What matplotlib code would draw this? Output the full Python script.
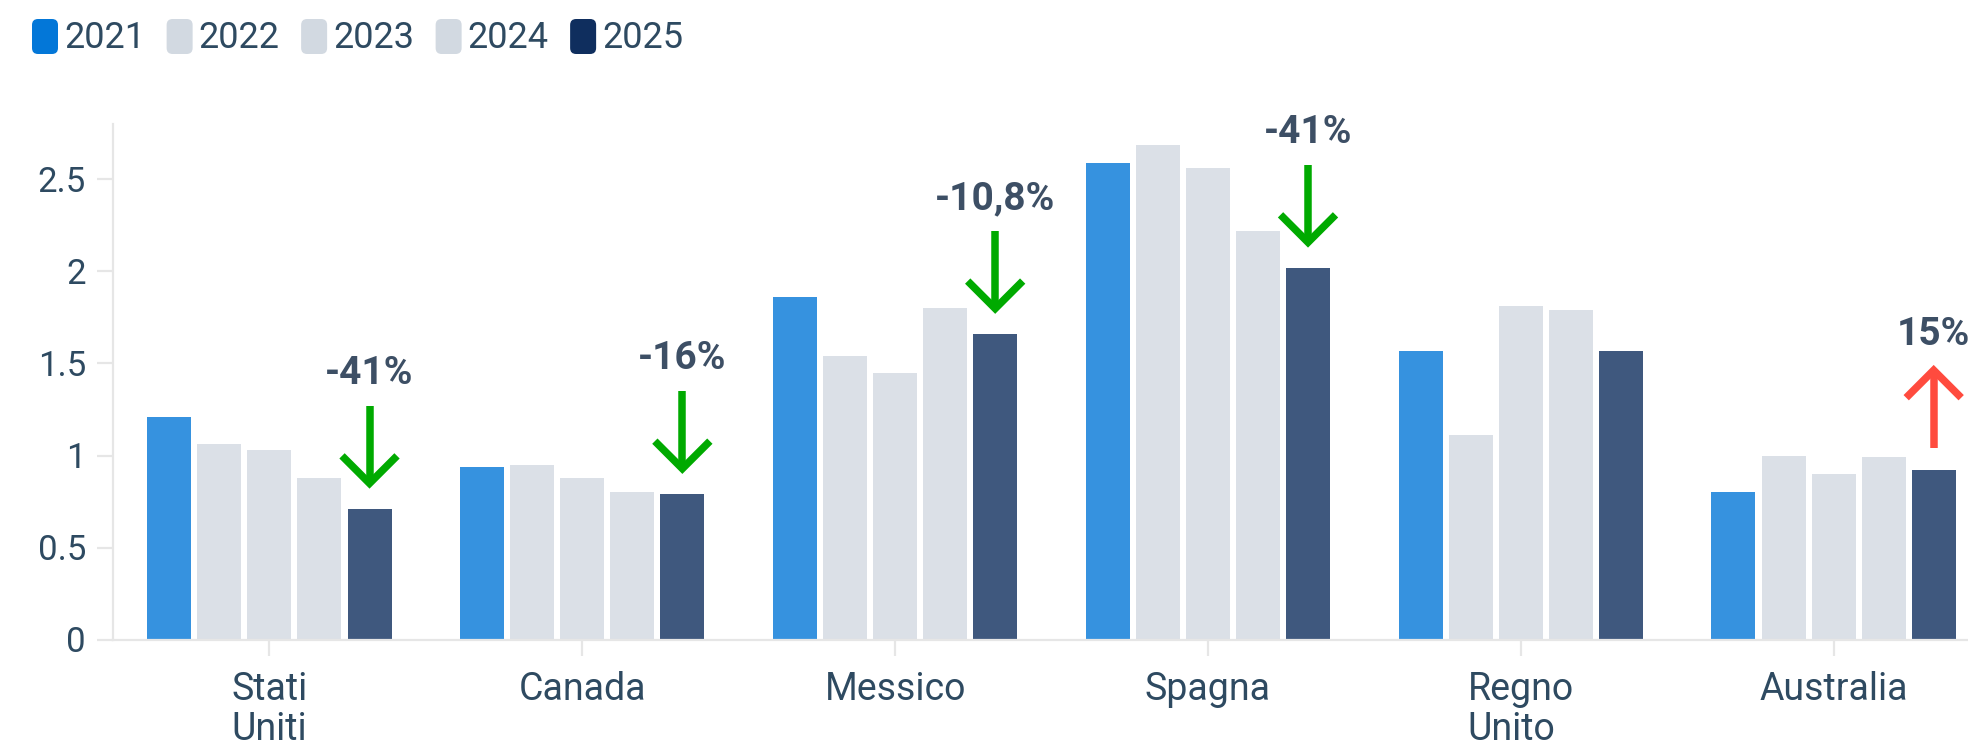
import matplotlib.pyplot as plt
import matplotlib.transforms as mtransforms
from matplotlib.patches import FancyBboxPatch
import numpy as np

plt.rcParams['font.family'] = ['Roboto', 'DejaVu Sans']

# data
countries = ["Stati\nUniti", "Canada", "Messico", "Spagna", "Regno\nUnito", "Australia"]
years = ["2021", "2022", "2023", "2024", "2025"]

v2021 = [1.21, 0.94, 1.86, 2.59, 1.57, 0.80]
v2022 = [1.06, 0.95, 1.54, 2.69, 1.11, 1.00]
v2023 = [1.03, 0.88, 1.45, 2.56, 1.81, 0.90]
v2024 = [0.88, 0.80, 1.80, 2.22, 1.79, 0.99]
v2025 = [0.71, 0.79, 1.66, 2.02, 1.57, 0.92]

change_labels = ["-41%", "-16%", "-10,8%", "-41%", "", "15%"]
change_dir = ["down", "down", "down", "down", "", "up"]

y_ticks = [0, 0.5, 1, 1.5, 2, 2.5]
y_tick_labels = ["0", "0.5", "1", "1.5", "2", "2.5"]

# styling
year_colors = ['#0377d8', '#d2d9e1', '#d2d9e1', '#d2d9e1', '#0f2e5e']
text_color = '#2e4a61'
axis_color = '#e6e6e6'
W, H = 1968, 754

fig = plt.figure(figsize=(W / 100, H / 100), dpi=100)
ax = fig.add_axes([113 / W, (H - 639.5) / H, 1877 / W, (639.5 - 124.3) / H])

x = np.arange(len(countries))
pitch = 0.16
bar_w = 0.1407
series = [v2021, v2022, v2023, v2024, v2025]
for i, vals in enumerate(series):
    ax.bar(x + (i - 2) * pitch, vals, width=bar_w, color=year_colors[i],
           alpha=0.8, zorder=2, linewidth=0)

# change arrows + labels above the 2025 bars
for k, (lab, d) in enumerate(zip(change_labels, change_dir)):
    if not lab:
        continue
    xk = x[k] + 2 * pitch
    # offsets in inches from the top of the bar
    trans = fig.dpi_scale_trans + mtransforms.ScaledTranslation(xk, v2025[k], ax.transData)
    if d == "down":
        color = '#00aa00'
        shaft = ([0, 0], [1.03, 0.26])
        head = ([-0.275, 0, 0.275], [0.53, 0.255, 0.53])
    else:
        color = '#ff4b3e'
        shaft = ([0, 0], [0.22, 0.99])
        head = ([-0.275, 0, 0.275], [0.725, 1.0, 0.725])
    ax.plot(*shaft, transform=trans, color=color, lw=5.4,
            solid_capstyle='butt', clip_on=False, zorder=3)
    ax.plot(*head, transform=trans, color=color, lw=5.4,
            solid_capstyle='butt', solid_joinstyle='miter', clip_on=False, zorder=3)
    ax.text(0, 1.25, lab, transform=trans, ha='center', va='baseline',
            fontsize=28, fontweight='bold', color='#3d4f65', clip_on=False)

ax.set_xlim(-0.5, 5.5)
ax.set_ylim(0, 2.8)
ax.set_xticks(x)
ax.set_xticklabels(countries)
for lbl in ax.get_xticklabels():
    lbl.set_multialignment('left')
    lbl.set_linespacing(1.1)
ax.set_yticks(y_ticks)
ax.set_yticklabels(y_tick_labels)

for side in ['top', 'right']:
    ax.spines[side].set_visible(False)
for side in ['left', 'bottom']:
    ax.spines[side].set_color(axis_color)
    ax.spines[side].set_linewidth(1.6)

ax.tick_params(axis='both', color=axis_color, width=1.6, length=11.5,
               labelcolor=text_color, labelsize=27)
ax.tick_params(axis='y', pad=8, labelsize=25)
ax.tick_params(axis='x', pad=11)

# legend drawn by hand at the top left
renderer = fig.canvas.get_renderer()
px = mtransforms.IdentityTransform()
x_cursor = 32
for name, col in zip(years, year_colors):
    box = FancyBboxPatch((x_cursor, H - 54), 26, 35,
                         boxstyle='round,pad=0,rounding_size=6',
                         transform=px, facecolor=col, edgecolor='none')
    fig.add_artist(box)
    t = fig.text(x_cursor + 32, H - 48.3, name, transform=px, fontsize=26,
                 color=text_color, ha='left', va='baseline')
    bb = t.get_window_extent(renderer)
    x_cursor = bb.x1 + 21.5

fig.savefig('out.png', dpi=100)
